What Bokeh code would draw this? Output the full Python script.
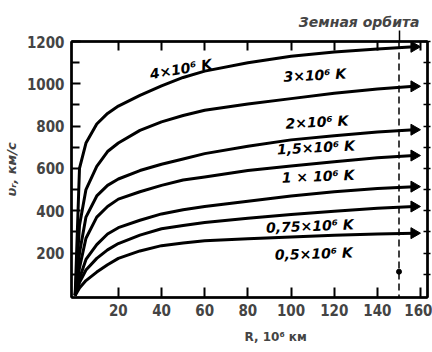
import math
from bokeh.plotting import figure
from bokeh.models import Range1d, LinearAxis, FixedTicker, Span, Title, CustomLabelingPolicy
from bokeh.core.properties import value
from bokeh.embed import file_html
from bokeh.resources import INLINE

# ---- data ----
R = [0, 2, 5, 10, 15, 20, 30, 40, 50, 60, 80, 100, 120, 140, 157]
v_4e6 = [0, 600, 720, 810, 860, 895, 945, 990, 1030, 1060, 1100, 1130, 1150, 1165, 1175]
v_3e6 = [0, 330, 500, 610, 680, 720, 780, 820, 850, 875, 905, 930, 955, 975, 988]
v_2e6 = [0, 200, 370, 470, 520, 550, 590, 620, 645, 670, 705, 735, 755, 772, 783]
v_15e6 = [0, 130, 270, 370, 420, 455, 490, 520, 545, 560, 590, 612, 632, 650, 661]
v_1e6 = [0, 80, 170, 240, 290, 320, 355, 385, 405, 420, 445, 470, 490, 505, 514]
v_075e6 = [0, 60, 120, 175, 215, 245, 285, 315, 330, 345, 365, 382, 398, 412, 420]
v_05e6 = [0, 35, 70, 110, 145, 175, 210, 235, 248, 258, 268, 276, 284, 290, 294]
series = [v_4e6, v_3e6, v_2e6, v_15e6, v_1e6, v_075e6, v_05e6]

labels = ["4×10⁶ K", "3×10⁶ K", "2×10⁶ K", "1,5×10⁶ K", "1 × 10⁶ K", "0,75×10⁶ K", "0,5×10⁶ K"]
label_R = [49, 111, 112, 111.5, 112.5, 108.7, 110.5]
label_v = [1070, 1041, 819, 699, 563, 328, 197]
label_angle = [0.17, 0.05, 0.05, 0.05, 0.04, 0.04, 0.03]

earth_R = 150
earth_point_v = 112

x_ticks = [20, 40, 60, 80, 100, 120, 140, 160]
y_ticks = [200, 400, 600, 800, 1000, 1200]
y_minor = [100, 300, 500, 700, 900, 1100]
y_all = [100, 200, 300, 400, 500, 600, 700, 800, 900, 1000, 1100, 1200]

# ---- figure ----
p = figure(width=432, height=352, x_range=Range1d(-1.7, 163.2), y_range=Range1d(-10, 1200),
           output_backend="svg", toolbar_location=None,
           min_border_left=70, min_border_right=5, min_border_top=41, min_border_bottom=53)
p.grid.visible = False
p.outline_line_color = "black"
p.outline_line_width = 2
p.background_fill_color = "white"
p.border_fill_color = "white"

tick_font = "'Liberation Sans Narrow', 'DejaVu Sans Condensed', sans-serif"
hide_code = "for (const i of indices) { indices.unset(i) }\nreturn indices"

xa = p.xaxis[0]
xa.ticker = FixedTicker(ticks=x_ticks, minor_ticks=[])
xa.major_tick_in = 10
xa.major_tick_out = 0
xa.major_tick_line_width = 2
xa.axis_line_width = 2.5
xa.major_label_text_font = tick_font
xa.major_label_text_font_style = "bold"
xa.major_label_text_font_size = "15px"
xa.major_label_standoff = 6

ya = p.yaxis[0]
ya.ticker = FixedTicker(ticks=y_ticks, minor_ticks=y_minor)
ya.major_tick_in = 9
ya.major_tick_out = 0
ya.minor_tick_in = 8
ya.minor_tick_out = 0
ya.major_tick_line_width = 2
ya.minor_tick_line_width = 2
ya.axis_line_width = 2.5
ya.major_label_text_font = tick_font
ya.major_label_text_font_style = "bold"
ya.major_label_text_font_size = "15px"
ya.major_label_standoff = 7
ya.axis_label = "υᵣ, км/с"
ya.axis_label_text_font = "DejaVu Sans"
ya.axis_label_text_font_style = "bold italic"
ya.axis_label_text_font_size = "13px"
ya.axis_label_standoff = 5

top = LinearAxis(ticker=FixedTicker(ticks=[earth_R], minor_ticks=x_ticks))
top.major_tick_in = 0
top.major_tick_out = 11
top.minor_tick_in = 9
top.minor_tick_out = 0
top.major_tick_line_width = 1.5
top.minor_tick_line_width = 2
top.axis_line_width = 2.5
top.major_label_policy = CustomLabelingPolicy(code=hide_code)
top.major_label_text_font_size = "0px"
top.major_label_standoff = 0
p.add_layout(top, "above")

right = LinearAxis(ticker=FixedTicker(ticks=y_all, minor_ticks=[]))
right.major_tick_in = 4
right.major_tick_out = 3
right.major_tick_line_width = 1.5
right.axis_line_width = 2.5
right.major_label_policy = CustomLabelingPolicy(code=hide_code)
right.major_label_text_font_size = "0px"
right.major_label_standoff = 0
p.add_layout(right, "right")

# Earth orbit dashed line
p.add_layout(Span(location=earth_R, dimension="height", line_color="black",
                  line_width=1.5, line_dash="7 4"))
p.scatter([earth_R], [earth_point_v], size=5, color="black")

# curves with arrows
for vals in series:
    p.line(R, vals, line_color="black", line_width=3)
    p.scatter([R[-1]], [vals[-1]], marker="triangle", size=11, angle=-math.pi / 2,
              color="black")

# curve labels
for t, lr, lv, ang in zip(labels, label_R, label_v, label_angle):
    p.text([lr], [lv], text=[t], angle=ang, text_align="center", text_baseline="middle",
           text_font=value("DejaVu Sans"), text_font_style="bold italic",
           text_font_size="14px", text_color="black")

p.add_layout(Title(text="Земная орбита", align="right", offset=8, standoff=2,
                   text_font="DejaVu Sans", text_font_style="bold italic",
                   text_font_size="14px"), "above")
p.add_layout(Title(text="R, 10⁶ км", align="left", offset=173, standoff=18,
                   text_font="DejaVu Sans", text_font_style="bold",
                   text_font_size="12px"), "below")

open("out.html", "w").write(file_html(p, INLINE))
